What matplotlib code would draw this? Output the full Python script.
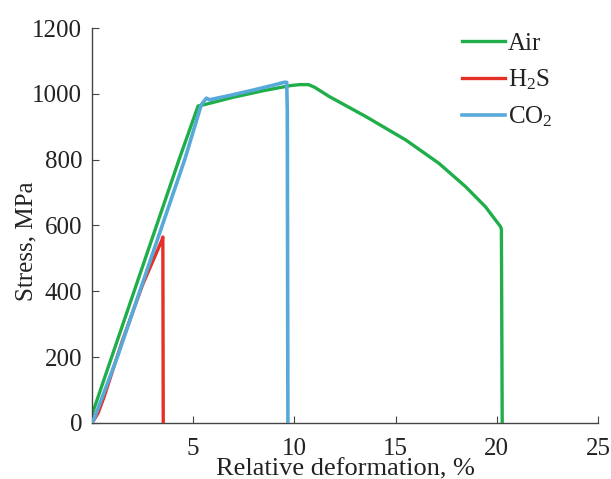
import matplotlib
matplotlib.use("Agg")
import matplotlib.pyplot as plt

air_x = [0.0, 0.97, 2.08, 3.19, 4.3, 5.24, 5.6, 7.0, 8.5, 9.8, 10.25, 10.7, 11.0, 11.72, 13.53, 15.5, 17.14, 18.46, 19.44, 20.18, 20.23, 20.27]
air_y = [25, 200, 400, 600, 800, 963, 968, 990, 1010, 1025, 1028, 1028, 1020, 992, 931, 860, 789, 718, 657, 597, 589, 0]

h2s_x = [0.0, 0.3, 0.6, 1.5, 2.5, 3.45, 3.5, 3.52]
h2s_y = [0, 30, 80, 250, 420, 555, 565, 0]

co2_x = [0.0, 0.15, 1.25, 2.36, 3.47, 4.58, 5.4, 5.65, 5.8, 6.8, 8.0, 9.0, 9.5, 9.62, 9.65, 9.68]
co2_y = [0, 20, 200, 400, 600, 800, 967, 987, 982, 995, 1012, 1027, 1035, 1035, 950, 0]

labels = ["Air", "H$_2$S", "CO$_2$"]
colors = ["#1fae4a", "#e53027", "#57a9da"]

plt.rcParams['font.family'] = ['Liberation Serif', 'DejaVu Serif']
plt.rcParams['mathtext.fontset'] = 'custom'
plt.rcParams['mathtext.rm'] = 'Liberation Serif'
plt.rcParams['mathtext.it'] = 'Liberation Serif'

fig = plt.figure(figsize=(6.11, 4.79), dpi=100)
ax = fig.add_axes([0.1506, 0.117, 0.828, 0.8245])

ax.plot(air_x, air_y, color=colors[0], lw=2.4, label=labels[0], zorder=2)
ax.plot(h2s_x, h2s_y, color=colors[1], lw=2.4, label=labels[1], zorder=3)
ax.plot(co2_x, co2_y, color=colors[2], lw=2.6, label=labels[2], zorder=4)

ax.set_xlim(0, 25)
ax.set_ylim(0, 1200)
ax.set_xticks([5, 10, 15, 20, 25])
ax.set_yticks([0, 200, 400, 600, 800, 1000, 1200])
for s in ['top', 'right']:
    ax.spines[s].set_visible(False)
for s in ['left', 'bottom']:
    ax.spines[s].set_color('#444444')
    ax.spines[s].set_linewidth(1.0)
ax.tick_params(direction='in', length=5, color='#444444', labelsize=18, labelcolor='#222222')
ax.tick_params(axis='x', pad=11)
ax.tick_params(axis='y', pad=7)

ax.set_xlabel("Relative deformation, %", fontsize=19, color='#222222', labelpad=-1)
ax.set_ylabel("Stress, MPa", fontsize=18, color='#222222', labelpad=2)
ax.yaxis.set_label_coords(-0.108, 0.46)

leg = ax.legend(loc='upper right', bbox_to_anchor=(0.955, 1.045), frameon=False, fontsize=18,
                handlelength=1.75, handletextpad=0.1, labelspacing=0.5, labelcolor='#222222')

fig.savefig("out.png", dpi=100)
